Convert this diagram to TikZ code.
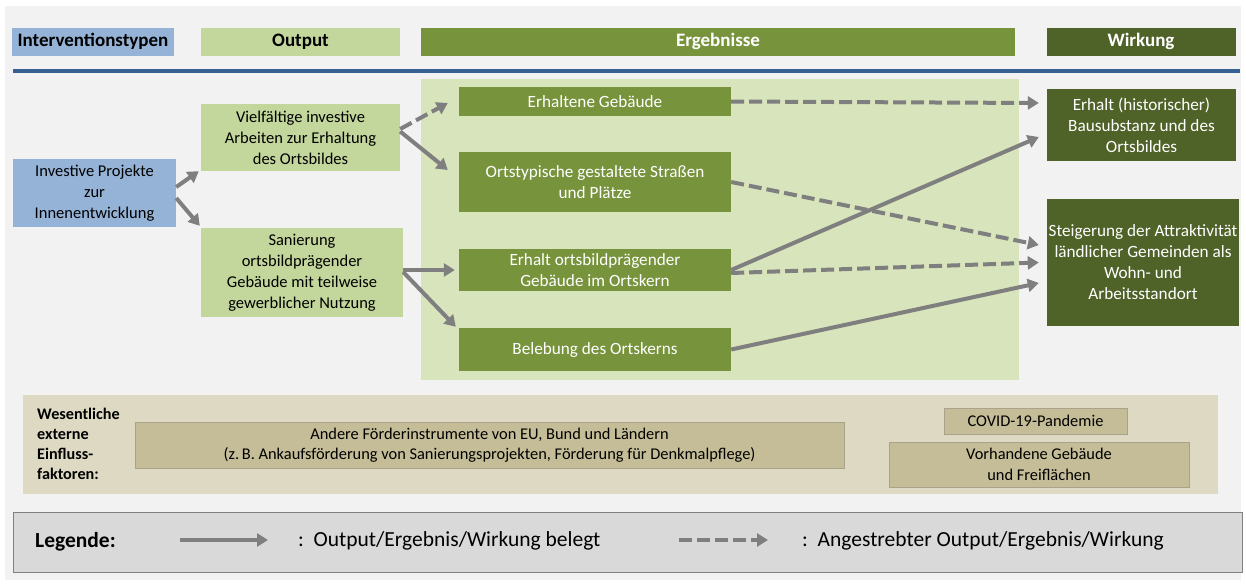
\documentclass[tikz,border=0pt]{standalone}
\usepackage{fontspec}
\setmainfont{Carlito}
\usetikzlibrary{arrows.meta}

\definecolor{bgGray}{HTML}{F2F2F2}
\definecolor{intBlue}{HTML}{95B3D7}
\definecolor{outGreen}{HTML}{C3D69B}
\definecolor{ergGreen}{HTML}{77933C}
\definecolor{ergBack}{HTML}{D8E4BC}
\definecolor{wirkGreen}{HTML}{4F6228}
\definecolor{lineBlue}{HTML}{376092}
\definecolor{extBack}{HTML}{DDD9C3}
\definecolor{extBox}{HTML}{C4BD97}
\definecolor{extEdge}{HTML}{A8A38A}
\definecolor{legBack}{HTML}{D9D9D9}
\definecolor{legEdge}{HTML}{808080}
\definecolor{arrGray}{HTML}{7F7F7F}

\begin{document}
\begin{tikzpicture}[x=1pt,y=-1pt,
    box/.style={rectangle,inner sep=0pt,align=center,font=\fontsize{16.5}{21}\selectfont},
    wbox/.style={box,text=white,font=\fontsize{17.2}{21}\selectfont},
    head/.style={box,minimum height=28pt,font=\fontsize{19}{22}\selectfont\bfseries},
    extbox/.style={box,fill=extBox,draw=extEdge,line width=0.8pt,font=\fontsize{16.4}{20.5}\selectfont},
    legtext/.style={inner sep=0pt,anchor=west,font=\fontsize{21.5}{24}\selectfont},
    belegt/.style={draw=arrGray,line width=4pt,-{Triangle[length=11pt,width=13pt]}},
    geplant/.style={belegt,dash pattern=on 13pt off 5pt}]
  % background
  \fill[white] (0,0) rectangle (1246,587);
  \fill[bgGray] (5,6) rectangle (1241,580);
  \useasboundingbox (0,0) rectangle (1246,587);

  % column heads
  \node[head,fill=intBlue,minimum width=162pt] (hInt) at (93,41.5) {Interventionstypen};
  \node[head,fill=outGreen,minimum width=199pt] (hOut) at (300.5,41.5) {Output};
  \node[head,fill=ergGreen,text=white,minimum width=594pt] (hErg) at (718,41.5) {Ergebnisse};
  \node[head,fill=wirkGreen,text=white,minimum width=189pt] (hWirk) at (1141,41.5) {Wirkung};
  \draw[lineBlue,line width=4.5pt] (13,71) -- (1240,71);

  \fill[ergBack] (421,79) rectangle (1019,380);

  % boxes
  \node[box,fill=intBlue,minimum width=163pt,minimum height=68pt] (inv) at (94.5,193)
    {Investive Projekte\\zur\\Innenentwicklung};
  \node[box,fill=outGreen,minimum width=199pt,minimum height=67pt] (viel) at (300.5,137.5)
    {Vielfältige investive\\Arbeiten zur Erhaltung\\des Ortsbildes};
  \node[box,fill=outGreen,minimum width=202pt,minimum height=89pt] (san) at (302,272.5)
    {Sanierung\\ortsbildprägender\\Gebäude mit teilweise\\gewerblicher Nutzung};
  \node[wbox,fill=ergGreen,minimum width=272pt,minimum height=29pt] (erh) at (595,101.5)
    {Erhaltene Gebäude};
  \node[wbox,fill=ergGreen,minimum width=272pt,minimum height=60pt] (orts) at (595,182)
    {Ortstypische gestaltete Straßen\\und Plätze};
  \node[wbox,fill=ergGreen,minimum width=272pt,minimum height=42pt] (erhOrt) at (595,270)
    {Erhalt ortsbildprägender\\Gebäude im Ortskern};
  \node[wbox,fill=ergGreen,minimum width=272pt,minimum height=43pt] (beleb) at (595,349.5)
    {Belebung des Ortskerns};
  \node[wbox,fill=wirkGreen,minimum width=189pt,minimum height=72pt] (wHist) at (1141.5,125)
    {Erhalt (historischer)\\Bausubstanz und des\\Ortsbildes};
  \node[wbox,fill=wirkGreen,minimum width=192pt,minimum height=127pt] (wSteig) at (1143,262.5)
    {Steigerung der Attraktivität\\ländlicher Gemeinden als\\Wohn- und\\Arbeitsstandort};

  % connectors
  \draw[belegt] ([yshift=6pt]inv.east) -- ([xshift=-2pt]viel.south west);
  \draw[belegt] ([yshift=-5pt]inv.east) -- ([xshift=-1pt,yshift=2pt]san.north west);
  \draw[geplant] ([yshift=8.5pt]viel.east) -- ([xshift=-11pt,yshift=-1.5pt]erh.west);
  \draw[belegt] ([yshift=6pt]viel.east) -- ([xshift=-11pt,yshift=12pt]orts.west);
  \draw[belegt] ([yshift=2.5pt]san.east) -- ([xshift=-4pt]erhOrt.west);
  \draw[belegt] ([yshift=0.5pt]san.east) -- ([xshift=-3pt,yshift=1pt]beleb.north west);
  \draw[geplant] (erh.east) -- ([xshift=-8pt,yshift=22pt]wHist.west);
  \draw[geplant] (orts.east) -- ([xshift=-8pt,yshift=17.5pt]wSteig.west);
  \draw[belegt] (erhOrt.east) -- ([xshift=-8pt,yshift=-12pt]wHist.west);
  \draw[geplant] ([yshift=-3pt]erhOrt.east) -- ([xshift=-8pt]wSteig.west);
  \draw[belegt] (beleb.east) -- ([xshift=-8pt,yshift=-20.5pt]wSteig.west);

  % external factors
  \fill[extBack] (23,395) rectangle (1218,494);
  \node[box,anchor=west,align=left,font=\fontsize{16.2}{20}\selectfont\bfseries] (extLbl) at (37,444)
    {Wesentliche\\externe\\Einfluss-\\faktoren:};
  \node[extbox,minimum width=709pt,minimum height=46pt] (andere) at (489.5,445)
    {Andere Förderinstrumente von EU, Bund und Ländern\\(z.\,B. Ankaufsförderung von Sanierungsprojekten, Förderung für Denkmalpflege)};
  \node[extbox,minimum width=183pt,minimum height=26pt] (covid) at (1035.5,421) {COVID-19-Pandemie};
  \node[extbox,minimum width=300pt,minimum height=45pt] (vorh) at (1039,464.5)
    {Vorhandene Gebäude\\und Freiflächen};

  % legend
  \node[draw=legEdge,fill=legBack,line width=1pt,minimum width=1229pt,minimum height=60pt] (legBox) at (627.5,542) {};
  \node[legtext,font=\fontsize{21.5}{24}\selectfont\bfseries] (legTitle) at (35,542) {Legende:};
  \coordinate (lgA) at (180,540);
  \coordinate (lgB) at (268,540);
  \draw[belegt] (lgA) -- (lgB);
  \node[legtext] (legBelegt) at (298,541) {:~~Output/Ergebnis/Wirkung belegt};
  \coordinate (lgC) at (679,540);
  \coordinate (lgD) at (768,540);
  \draw[geplant] (lgC) -- (lgD);
  \node[legtext] (legGeplant) at (802,541) {:~~Angestrebter Output/Ergebnis/Wirkung};
\end{tikzpicture}
\end{document}
